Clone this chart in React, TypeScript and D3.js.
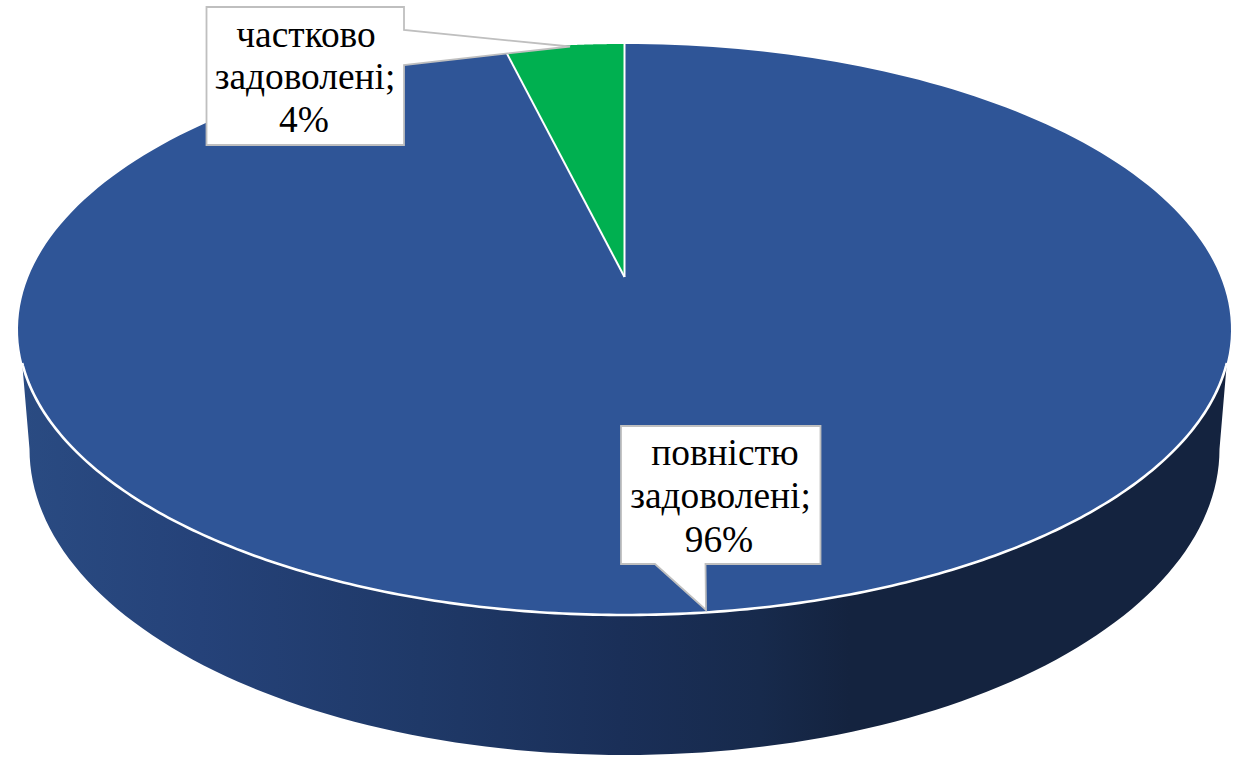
import React from "react";
import * as d3 from "d3";

const categories = ["повністю задоволені", "частково задоволені"];
const values = [96.2, 3.8];
const sliceColors = ["#2f5597", "#00b050"];
const labelLines = [
  ["повністю", "задоволені;"],
  ["частково", "задоволені;"],
];
const sideStops: [number, string][] = [
  [18, "#2a4b82"],
  [200, "#254279"],
  [420, "#1f3968"],
  [620, "#1a2f58"],
  [760, "#172a4c"],
  [850, "#14233f"],
  [1231, "#14233f"],
];

const W = 1233;
const H = 757;
// Perspective disc: top face ellipse and apex point
const cx = 624.5;
const apexY = 277;
const topY = 44;
const frontY = 615;
const halfWidth = 606.5;
const backR = apexY - topY;
const frontR = frontY - apexY;
const k = (frontR - backR) / (frontR + backR);
const B = backR * (1 + k);
const A = halfWidth * Math.sqrt(1 - k * k);
const project = (t: number): [number, number] => {
  const X = Math.sin(t);
  const Y = Math.cos(t);
  const w = 1 + k * Y;
  return [cx + (A * X) / w, apexY - (B * Y) / w];
};
// Bottom rim ellipse
const botCy = 449;
const botRx = 595;
const botRy = 306;
const rimSplitY = 363;

const line = d3.line();
const sample = (a0: number, a1: number, n = 240) =>
  d3.range(n + 1).map((i) => project(a0 + ((a1 - a0) * i) / n));

const pieGen = d3.pie<number>().sort(null).value((d) => d);
const arcs = pieGen(values);

const topCy = (topY + frontY) / 2;
const topRy = (frontY - topY) / 2;
const splitDx = halfWidth * Math.sqrt(1 - ((rimSplitY - topCy) / topRy) ** 2);
const splitAngle = (() => {
  // plan-view angle at which the rim reaches the split height on the right side
  let lo = Math.PI / 2;
  let hi = Math.PI;
  for (let i = 0; i < 40; i++) {
    const m = (lo + hi) / 2;
    if (project(m)[1] < rimSplitY) lo = m;
    else hi = m;
  }
  return lo;
})();

const bottomEdge = d3
  .range(121)
  .map((i): [number, number] => {
    const t = Math.PI - (Math.PI * i) / 120;
    return [cx + botRx * Math.cos(t), botCy + botRy * Math.sin(t)];
  });
const sidePath =
  line([[cx - splitDx, rimSplitY], ...bottomEdge, [cx + splitDx, rimSplitY]]) + "Z";
const rimPath = line(sample(splitAngle, 2 * Math.PI - splitAngle)) as string;

const slicePath = (a0: number, a1: number) =>
  line([[cx, apexY], ...sample(a0, a1)]) + "Z";

const fmt = d3.format(".0f");
const serif = "'Liberation Serif', 'Times New Roman', serif";

const callouts = [
  {
    // повністю задоволені
    path: "M621 426H820.5V564H705.5L706 610L655 564H621Z",
    cxs: [725, 720.5, 719],
    ys: [465, 508, 552],
  },
  {
    // частково задоволені
    path: "M206.5 7H404V30L570 46.5L404 65V145H206.5Z",
    cxs: [306, 305, 304],
    ys: [47, 89, 132],
  },
];

export default function App() {
  return (
    <svg
      width={W}
      height={H}
      viewBox={`0 0 ${W} ${H}`}
      style={{ position: "absolute", left: 0, top: 0, display: "block", background: "#fff" }}
    >
      <defs>
        <linearGradient id="side" gradientUnits="userSpaceOnUse" x1={18} x2={1231} y1={0} y2={0}>
          {sideStops.map(([x, c]) => (
            <stop key={x} offset={(x - 18) / (1231 - 18)} stopColor={c} />
          ))}
        </linearGradient>
      </defs>
      <path d={sidePath} fill="url(#side)" />
      {arcs.map((a, i) => (
        <path key={categories[i]} d={slicePath(a.startAngle, a.endAngle)} fill={sliceColors[i]} />
      ))}
      {[arcs[1].startAngle, arcs[1].endAngle].map((t, i) => (
        <path key={i} d={line([[cx, apexY], project(t)]) as string} stroke="#fff" strokeWidth={2} fill="none" />
      ))}
      <path d={rimPath} fill="none" stroke="#fff" strokeWidth={2.6} />
      {callouts.map((c, i) => {
        const lines = [...labelLines[i], `${fmt(values[i])}%`];
        return (
          <g key={categories[i]}>
            <path d={c.path} fill="#fff" stroke="#bfbfbf" strokeWidth={1.8} />
            {lines.map((t, j) => (
              <text
                key={j}
                x={c.cxs[j]}
                y={c.ys[j]}
                textAnchor="middle"
                fontFamily={serif}
                fontSize={37.4}
                fill="#000"
              >
                {t}
              </text>
            ))}
          </g>
        );
      })}
    </svg>
  );
}
